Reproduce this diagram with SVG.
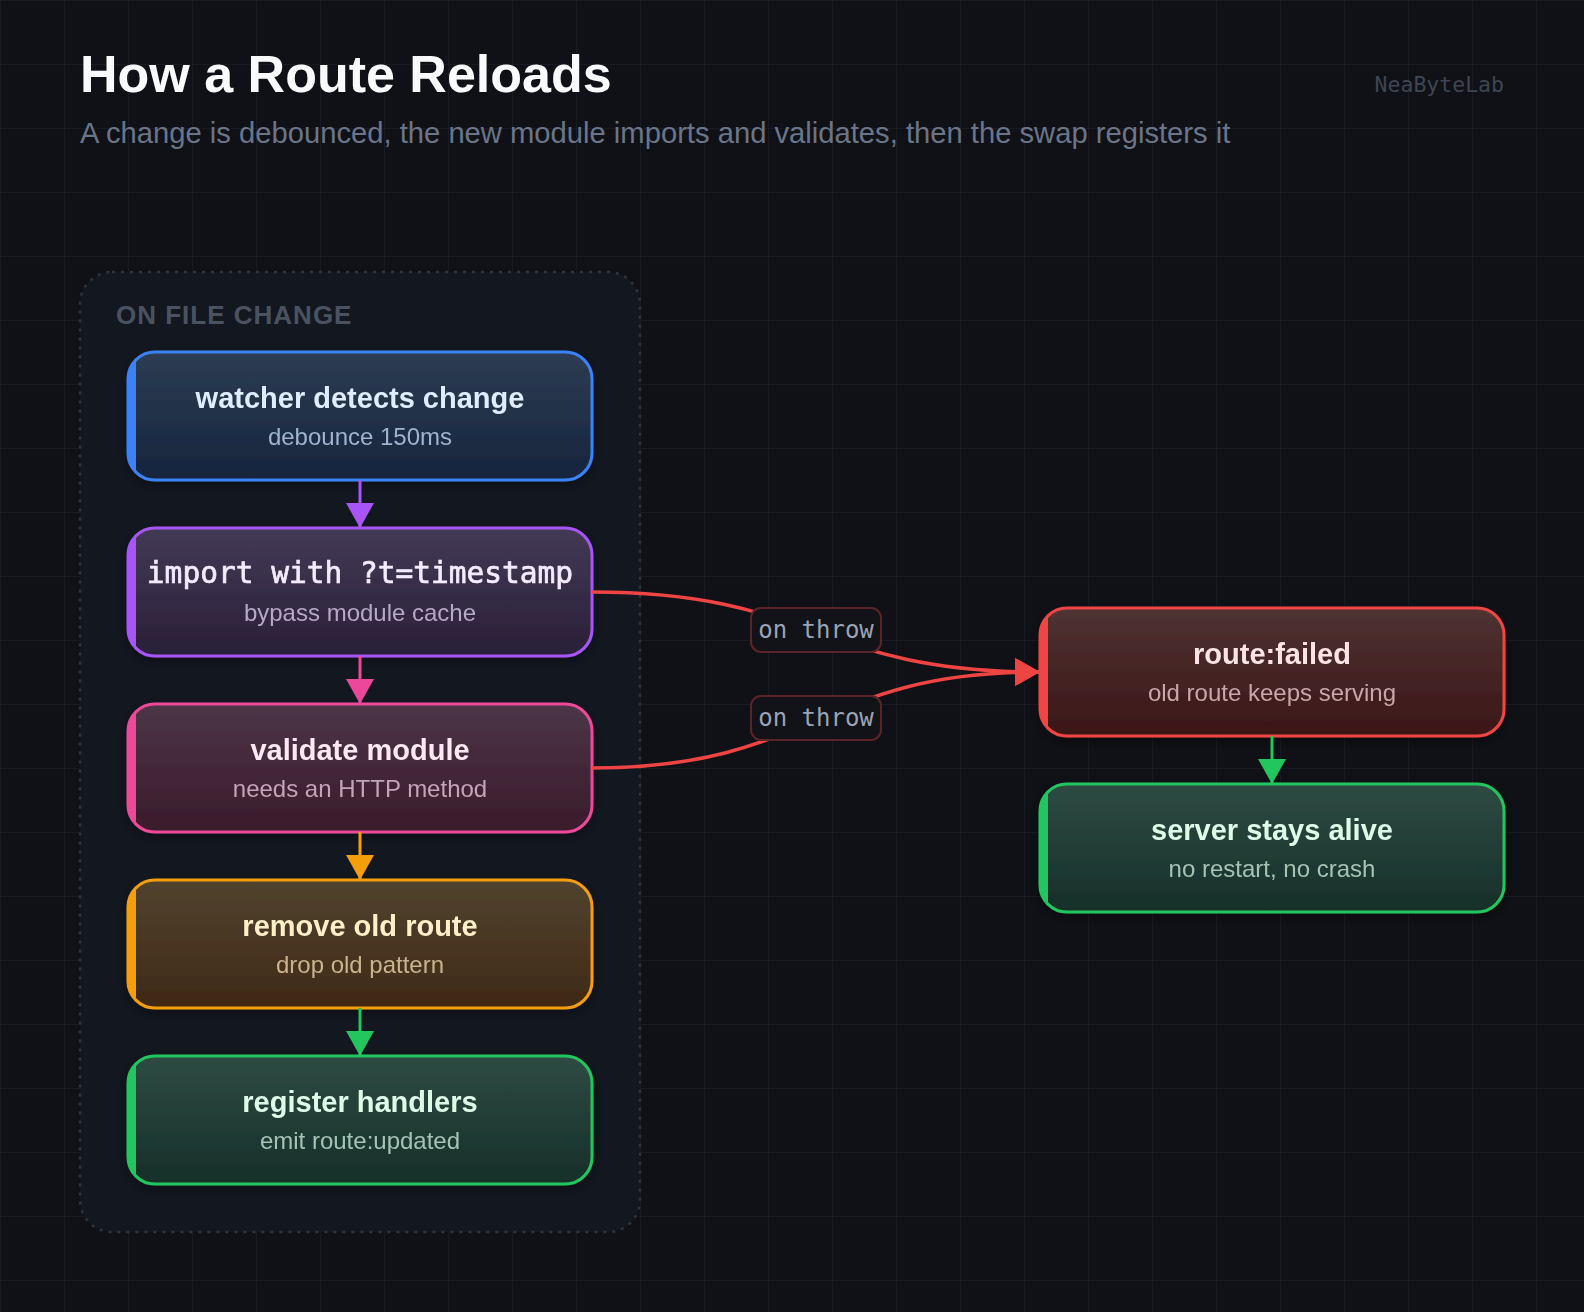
<svg xmlns="http://www.w3.org/2000/svg" width="1584" height="1312" viewBox="0 0 1584 1312">
<defs>
<style>
.title{font-family:"Liberation Sans",Arial,sans-serif;font-weight:700;font-size:52px;fill:#f8fafc}
.sub{font-family:"Liberation Sans",Arial,sans-serif;font-size:29.2px;fill:#6b7589}
.brand{font-family:"DejaVu Sans Mono","Liberation Mono",monospace;font-size:21.5px;fill:#3f4552}
.grp{font-family:"Liberation Sans",Arial,sans-serif;font-weight:700;font-size:26px;letter-spacing:1px;fill:#4a5261}
.nt{font-family:"Liberation Sans",Arial,sans-serif;font-weight:700;font-size:29px;text-anchor:middle}
.nm{font-family:"DejaVu Sans Mono","Liberation Mono",monospace;font-weight:400;font-size:29.5px;text-anchor:middle;stroke-width:0.7px}
.ns{font-family:"Liberation Sans",Arial,sans-serif;font-size:24px;text-anchor:middle}
.lbl{font-family:"DejaVu Sans Mono","Liberation Mono",monospace;font-size:24px;fill:#9ba4b6;text-anchor:middle}
.lblbox{fill:#111318;stroke:#5b2429;stroke-width:2}
.edge{fill:none;stroke-width:3}
.curve{stroke-width:3.5}
.node rect.box{stroke-width:3}
</style>
<pattern id="grid" width="64" height="64" patternUnits="userSpaceOnUse">
<path d="M64 0H0V64" fill="none" stroke="#1b1e27" stroke-width="1.5"/>
</pattern>
<linearGradient id="gBlue" x1="0" y1="0" x2="0" y2="1"><stop offset="0" stop-color="#2d3d53"/><stop offset="1" stop-color="#16243d"/></linearGradient>
<linearGradient id="gPurple" x1="0" y1="0" x2="0" y2="1"><stop offset="0" stop-color="#433a56"/><stop offset="1" stop-color="#291f37"/></linearGradient>
<linearGradient id="gPink" x1="0" y1="0" x2="0" y2="1"><stop offset="0" stop-color="#4c3547"/><stop offset="1" stop-color="#3a1b2b"/></linearGradient>
<linearGradient id="gOrange" x1="0" y1="0" x2="0" y2="1"><stop offset="0" stop-color="#51432f"/><stop offset="1" stop-color="#3f2916"/></linearGradient>
<linearGradient id="gGreen" x1="0" y1="0" x2="0" y2="1"><stop offset="0" stop-color="#2e4b43"/><stop offset="1" stop-color="#162f28"/></linearGradient>
<linearGradient id="gRed" x1="0" y1="0" x2="0" y2="1"><stop offset="0" stop-color="#503232"/><stop offset="1" stop-color="#3b1617"/></linearGradient>
<filter id="sh" x="-10%" y="-10%" width="120%" height="130%"><feDropShadow dx="0" dy="4" stdDeviation="6" flood-color="#000" flood-opacity="0.35"/></filter>
<marker id="aPurple" markerUnits="userSpaceOnUse" markerWidth="25" markerHeight="28" refX="25" refY="14" orient="auto"><path d="M0 0L25 14L0 28z" fill="#a855f7"/></marker>
<marker id="aPink" markerUnits="userSpaceOnUse" markerWidth="25" markerHeight="28" refX="25" refY="14" orient="auto"><path d="M0 0L25 14L0 28z" fill="#ec4899"/></marker>
<marker id="aOrange" markerUnits="userSpaceOnUse" markerWidth="25" markerHeight="28" refX="25" refY="14" orient="auto"><path d="M0 0L25 14L0 28z" fill="#f59e0b"/></marker>
<marker id="aGreen" markerUnits="userSpaceOnUse" markerWidth="25" markerHeight="28" refX="25" refY="14" orient="auto"><path d="M0 0L25 14L0 28z" fill="#22c55e"/></marker>
<marker id="aRed" markerUnits="userSpaceOnUse" markerWidth="25" markerHeight="28" refX="25" refY="14" orient="auto"><path d="M0 0L25 14L0 28z" fill="#ef4444"/></marker>
<clipPath id="c1"><rect x="128" y="352" width="464" height="128" rx="27"/></clipPath>
<clipPath id="c2"><rect x="128" y="528" width="464" height="128" rx="27"/></clipPath>
<clipPath id="c3"><rect x="128" y="704" width="464" height="128" rx="27"/></clipPath>
<clipPath id="c4"><rect x="128" y="880" width="464" height="128" rx="27"/></clipPath>
<clipPath id="c5"><rect x="128" y="1056" width="464" height="128" rx="27"/></clipPath>
<clipPath id="c6"><rect x="1040" y="608" width="464" height="128" rx="27"/></clipPath>
<clipPath id="c7"><rect x="1040" y="784" width="464" height="128" rx="27"/></clipPath>
</defs>

<rect width="1584" height="1312" fill="#101116"/>
<rect width="1584" height="1312" fill="url(#grid)"/>

<text class="title" x="80" y="92">How a Route Reloads</text>
<text class="sub" x="80" y="143">A change is debounced, the new module imports and validates, then the swap registers it</text>
<text class="brand" x="1504" y="92" text-anchor="end">NeaByteLab</text>

<g id="group-on-file-change">
<rect x="80" y="272" width="560" height="960" rx="32" fill="#131720" stroke="#2e333e" stroke-width="2.5" stroke-dasharray="3 6"/>
<text class="grp" x="116" y="324">ON FILE CHANGE</text>
</g>

<g id="node-watcher" class="node" filter="url(#sh)">
<rect class="box" x="128" y="352" width="464" height="128" rx="27" fill="url(#gBlue)" stroke="#3b82f6"/>
<rect x="128" y="352" width="8" height="128" fill="#3b82f6" clip-path="url(#c1)"/>
<text class="nt" x="360" y="408" fill="#e0ecff">watcher detects change</text>
<text class="ns" x="360" y="445" fill="#9fb3cc">debounce 150ms</text>
</g>

<g id="node-import" class="node" filter="url(#sh)">
<rect class="box" x="128" y="528" width="464" height="128" rx="27" fill="url(#gPurple)" stroke="#a855f7"/>
<rect x="128" y="528" width="8" height="128" fill="#a855f7" clip-path="url(#c2)"/>
<text class="nm" x="360" y="583" fill="#f5ebff" stroke="#f5ebff">import with ?t=timestamp</text>
<text class="ns" x="360" y="621" fill="#b5a8c8">bypass module cache</text>
</g>

<g id="node-validate" class="node" filter="url(#sh)">
<rect class="box" x="128" y="704" width="464" height="128" rx="27" fill="url(#gPink)" stroke="#ec4899"/>
<rect x="128" y="704" width="8" height="128" fill="#ec4899" clip-path="url(#c3)"/>
<text class="nt" x="360" y="760" fill="#fde8f3">validate module</text>
<text class="ns" x="360" y="797" fill="#c2a5b6">needs an HTTP method</text>
</g>

<g id="node-remove" class="node" filter="url(#sh)">
<rect class="box" x="128" y="880" width="464" height="128" rx="27" fill="url(#gOrange)" stroke="#f59e0b"/>
<rect x="128" y="880" width="8" height="128" fill="#f59e0b" clip-path="url(#c4)"/>
<text class="nt" x="360" y="936" fill="#fdf0c8">remove old route</text>
<text class="ns" x="360" y="973" fill="#c9b48f">drop old pattern</text>
</g>

<g id="node-register" class="node" filter="url(#sh)">
<rect class="box" x="128" y="1056" width="464" height="128" rx="27" fill="url(#gGreen)" stroke="#22c55e"/>
<rect x="128" y="1056" width="8" height="128" fill="#22c55e" clip-path="url(#c5)"/>
<text class="nt" x="360" y="1112" fill="#dcfbe8">register handlers</text>
<text class="ns" x="360" y="1149" fill="#a3c4b5">emit route:updated</text>
</g>

<g id="node-failed" class="node" filter="url(#sh)">
<rect class="box" x="1040" y="608" width="464" height="128" rx="27" fill="url(#gRed)" stroke="#ef4444"/>
<rect x="1040" y="608" width="8" height="128" fill="#ef4444" clip-path="url(#c6)"/>
<text class="nt" x="1272" y="664" fill="#fde4e4">route:failed</text>
<text class="ns" x="1272" y="701" fill="#c7a7a7">old route keeps serving</text>
</g>

<g id="node-alive" class="node" filter="url(#sh)">
<rect class="box" x="1040" y="784" width="464" height="128" rx="27" fill="url(#gGreen)" stroke="#22c55e"/>
<rect x="1040" y="784" width="8" height="128" fill="#22c55e" clip-path="url(#c7)"/>
<text class="nt" x="1272" y="840" fill="#dcfbe8">server stays alive</text>
<text class="ns" x="1272" y="877" fill="#a3c4b5">no restart, no crash</text>
</g>

<g id="connectors">
<path class="edge" d="M360 480V528" stroke="#a855f7" marker-end="url(#aPurple)"/>
<path class="edge" d="M360 656V704" stroke="#ec4899" marker-end="url(#aPink)"/>
<path class="edge" d="M360 832V880" stroke="#f59e0b" marker-end="url(#aOrange)"/>
<path class="edge" d="M360 1008V1056" stroke="#22c55e" marker-end="url(#aGreen)"/>
<path class="edge" d="M1272 736V784" stroke="#22c55e" marker-end="url(#aGreen)"/>
<path class="edge curve" d="M592 592C816 592 816 672 1040 672" stroke="#ef4444" marker-end="url(#aRed)"/>
<path class="edge curve" d="M592 768C816 768 816 672 1040 672" stroke="#ef4444" marker-end="url(#aRed)"/>
<g id="label-throw-1">
<rect class="lblbox" x="751" y="608" width="130" height="44" rx="10"/>
<text class="lbl" x="816" y="638">on throw</text>
</g>
<g id="label-throw-2">
<rect class="lblbox" x="751" y="696" width="130" height="44" rx="10"/>
<text class="lbl" x="816" y="726">on throw</text>
</g>
</g>
</svg>
